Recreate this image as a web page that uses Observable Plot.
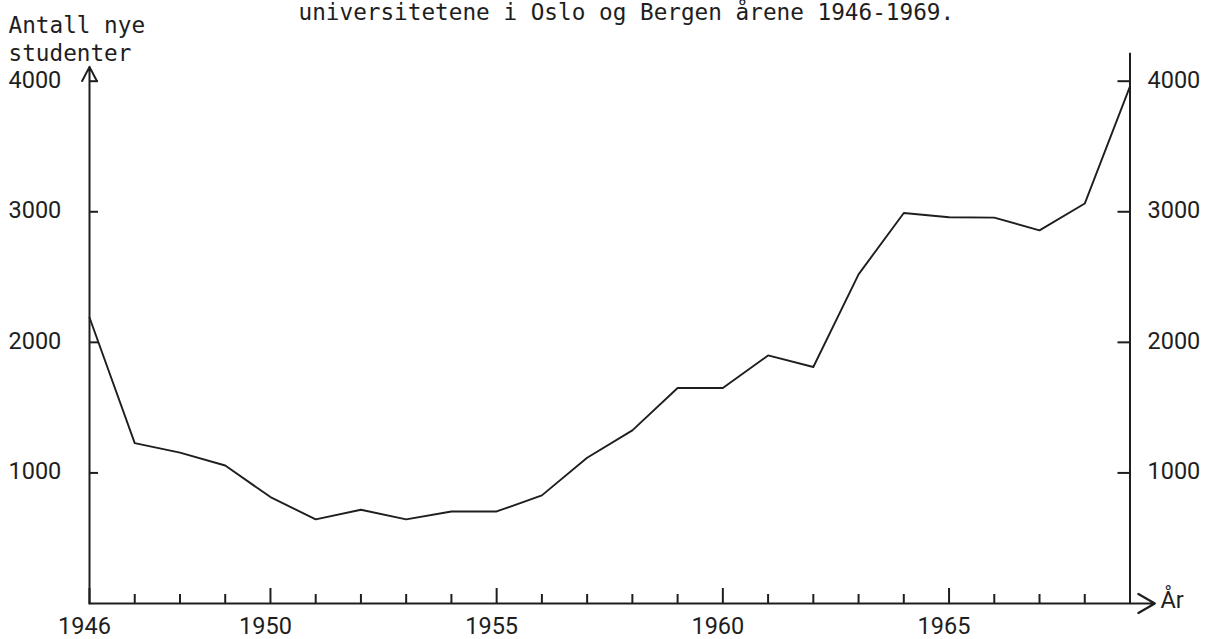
<!DOCTYPE html>
<html>
<head>
<meta charset="utf-8">
<script src="https://cdn.jsdelivr.net/npm/d3@7"></script>
<script src="https://cdn.jsdelivr.net/npm/@observablehq/plot@0.6"></script>
<style>
html, body { margin: 0; padding: 0; background: #fff; }
#chart { width: 1212px; height: 639px; overflow: hidden; }
</style>
</head>
<body>
<div id="chart"></div>
<script>
// ---- data ----
const years = [1946, 1947, 1948, 1949, 1950, 1951, 1952, 1953, 1954, 1955, 1956, 1957,
               1958, 1959, 1960, 1961, 1962, 1963, 1964, 1965, 1966, 1967, 1968, 1969];
const students = [2190, 1228, 1155, 1057, 815, 644, 718, 644, 705, 705, 828, 1116,
                  1326, 1650, 1650, 1900, 1811, 2521, 2991, 2958, 2955, 2858, 3063, 3960];
const majorYears = [1946, 1950, 1955, 1960, 1965];
const yTicks = [1000, 2000, 3000, 4000];
const titleText = "universitetene i Oslo og Bergen årene 1946-1969.";
const yLabel = "Antall nye\nstudenter";
const xLabel = "År";
// axis extents (beyond domain, for the hand-drawn axes)
const leftAxisTop = 4110;
const rightAxisTop = 4215;
const xAxisEnd = 1969.55;

const table = years.map((y, i) => ({year: y, value: students[i]}));

// ---- layout ----
const W = 1212, H = 639;
const mL = 89, mR = 82.5, mT = 80.7, mB = 36;
const frameW = W - mL - mR, frameH = H - mT - mB;
const ink = "#1e1e1e";
const numFont = "Roboto, 'Liberation Sans', sans-serif";
const monoFont = "'DejaVu Sans Mono', 'Liberation Mono', monospace";

const plot = Plot.plot({
  width: W, height: H,
  marginLeft: mL, marginRight: mR, marginTop: mT, marginBottom: mB,
  x: {domain: [1946, 1969], axis: null},
  y: {domain: [0, 4000], axis: null},
  style: {background: "#fff", overflow: "visible"},
  marks: [
    // x ticks (minor and major, pointing up)
    Plot.tickX(years.filter(y => !majorYears.includes(y)), {x: d => d, insetTop: frameH - 9, stroke: ink, strokeWidth: 2}),
    Plot.tickX(majorYears, {x: d => d, insetTop: frameH - 15, stroke: ink, strokeWidth: 2}),
    // y ticks left (pointing right) and right (pointing left)
    Plot.tickY(yTicks, {y: d => d, insetRight: frameW - 9, stroke: ink, strokeWidth: 2}),
    Plot.tickY(yTicks, {y: d => d, insetLeft: frameW - 12, stroke: ink, strokeWidth: 2}),
    // axes
    Plot.arrow([0], {x1: () => 1946, y1: () => 0, x2: () => 1946, y2: () => leftAxisTop,
      stroke: ink, strokeWidth: 2, headLength: 12, headAngle: 55}),
    Plot.arrow([0], {x1: () => 1946, y1: () => 0, x2: () => xAxisEnd, y2: () => 0,
      stroke: ink, strokeWidth: 2.2, headLength: 13, headAngle: 60}),
    Plot.ruleX([1969], {x: d => d, y1: () => 0, y2: () => rightAxisTop, stroke: ink, strokeWidth: 2}),
    // data line
    Plot.line(table, {x: "year", y: "value", stroke: ink, strokeWidth: 1.9, strokeLinejoin: "round"}),
    // tick labels
    Plot.text(yTicks, {y: d => d, text: d => String(d), frameAnchor: "left", dx: 8 - mL, dy: -1,
      textAnchor: "start", lineAnchor: "middle", fontSize: 23.5, fontFamily: numFont, fill: ink}),
    Plot.text(yTicks, {y: d => d, text: d => String(d), frameAnchor: "right", dx: 17.5, dy: -1,
      textAnchor: "start", lineAnchor: "middle", fontSize: 23.5, fontFamily: numFont, fill: ink}),
    Plot.text(majorYears, {x: d => d, text: d => String(d), frameAnchor: "bottom", dx: -5, dy: 23,
      lineAnchor: "middle", fontSize: 23.5, fontFamily: numFont, fill: ink}),
    // axis labels
    Plot.text([xLabel], {text: d => d, frameAnchor: "bottom-right", dx: 1160 - (W - mR), dy: -3,
      textAnchor: "start", lineAnchor: "middle", fontSize: 23.5, fontFamily: numFont, fill: ink}),
    Plot.text([yLabel], {text: d => d, frameAnchor: "top-left", dx: 8 - mL, dy: 12 - mT,
      textAnchor: "start", lineAnchor: "top", lineHeight: 1.255, fontSize: 22.7, fontFamily: monoFont, fill: ink}),
    // title (second line, top line cut off)
    Plot.text([titleText], {text: d => d, frameAnchor: "top-left", dx: 298 - mL, dy: 19.5 - mT,
      textAnchor: "start", lineAnchor: "bottom", fontSize: 22.7, fontFamily: monoFont, fill: ink})
  ]
});
document.getElementById("chart").appendChild(plot);
</script>
</body>
</html>
